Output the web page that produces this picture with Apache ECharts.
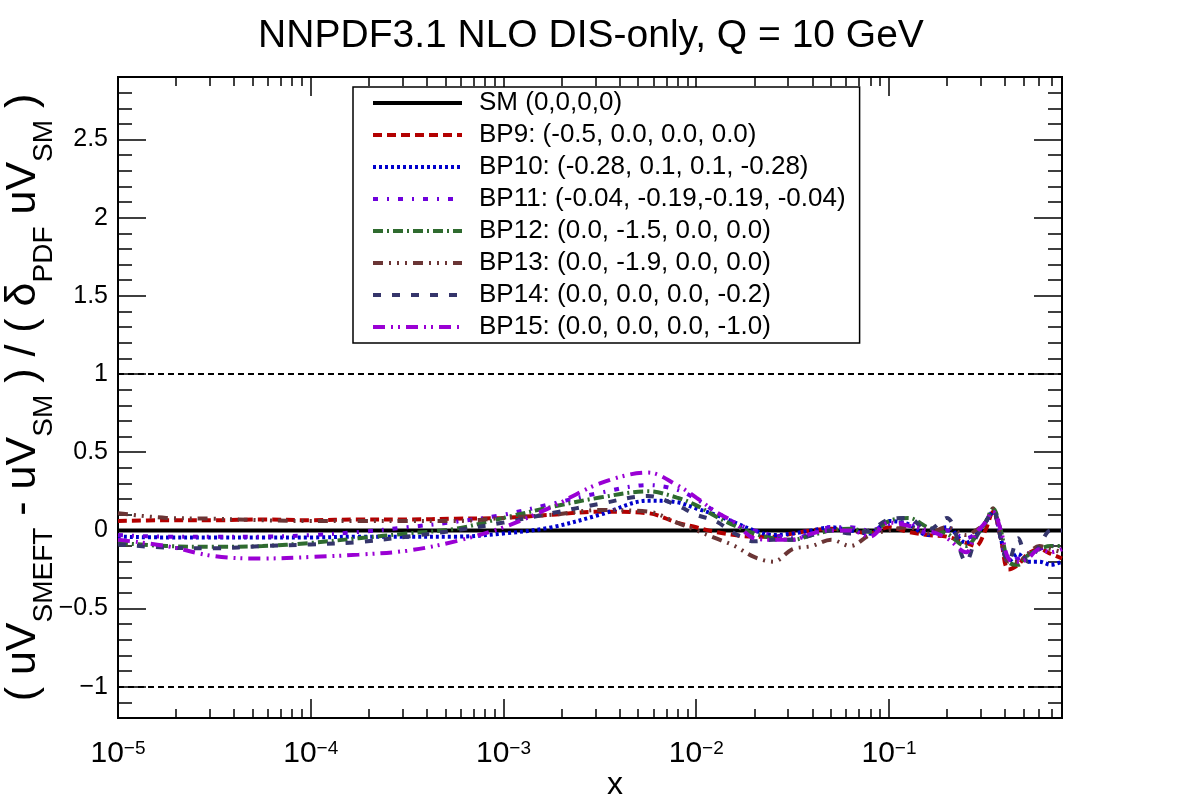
<!DOCTYPE html>
<html>
<head>
<meta charset="utf-8">
<title>NNPDF3.1 NLO DIS-only</title>
<script src="https://cdn.jsdelivr.net/npm/echarts@6.0.0/dist/echarts.min.js"></script>
<style>
html, body { margin: 0; padding: 0; background: #fff; }
#chart { width: 1182px; height: 800px; }
</style>
</head>
<body>
<div id="chart"></div>
<script>
// x points (log spaced)
const xVals = [1e-5, 1.778e-5, 3.162e-5, 5.623e-5, 1e-4, 1.778e-4, 3.162e-4, 5.623e-4,
  1e-3, 1.778e-3, 3.162e-3, 5.623e-3, 7.943e-3, 1e-2, 1.259e-2, 1.585e-2, 1.995e-2,
  2.512e-2, 3.162e-2, 3.981e-2, 5.012e-2, 6.31e-2, 7.943e-2, 0.1, 0.1259, 0.1585,
  0.1995, 0.2512, 0.2818, 0.3162, 0.3467, 0.3802, 0.4169, 0.4677, 0.5248, 0.6026, 0.6918, 0.79];

const bp9 = [0.06, 0.065, 0.065, 0.07, 0.065, 0.07, 0.07, 0.075, 0.08, 0.1, 0.12, 0.11, 0.05, 0.02,
  -0.01, -0.03, -0.04, -0.04, -0.02, 0.0, 0.01, 0.0, -0.02, 0.02, -0.01, -0.03, -0.04, -0.08,
  -0.1, 0.0, 0.12, -0.05, -0.25, -0.22, -0.15, -0.12, -0.15, -0.18];
const bp10 = [-0.04, -0.045, -0.045, -0.045, -0.045, -0.04, -0.04, -0.04, -0.02, 0.02, 0.1, 0.19,
  0.18, 0.14, 0.1, 0.05, 0.0, -0.03, -0.02, 0.0, 0.02, 0.0, -0.02, 0.06, 0.04, -0.03, 0.02,
  -0.08, -0.03, 0.05, 0.12, -0.05, -0.2, -0.15, -0.2, -0.2, -0.22, -0.2];
const bp11 = [-0.03, -0.04, -0.04, -0.04, -0.03, -0.01, 0.02, 0.055, 0.1, 0.17, 0.24, 0.29, 0.26,
  0.2, 0.12, 0.05, 0.0, -0.03, -0.05, -0.02, 0.02, 0.02, 0.0, 0.04, 0.05, -0.02, 0.0, -0.05,
  -0.02, 0.05, 0.13, -0.05, -0.2, -0.18, -0.15, -0.12, -0.1, -0.12];
const bp12 = [-0.08, -0.1, -0.105, -0.1, -0.08, -0.05, -0.02, 0.01, 0.08, 0.15, 0.21, 0.25, 0.21,
  0.16, 0.09, 0.03, -0.02, -0.05, -0.06, -0.03, 0.0, 0.01, -0.01, 0.06, 0.08, 0.02, -0.02,
  -0.1, -0.04, 0.05, 0.14, 0.0, -0.2, -0.22, -0.16, -0.12, -0.1, -0.1];
const bp13 = [0.11, 0.08, 0.075, 0.065, 0.06, 0.06, 0.06, 0.06, 0.08, 0.1, 0.13, 0.12, 0.05, 0.0,
  -0.05, -0.1, -0.17, -0.2, -0.12, -0.1, -0.06, -0.1, -0.03, 0.0, 0.02, -0.02, 0.02, -0.03,
  0.0, 0.05, 0.14, -0.05, -0.2, -0.2, -0.15, -0.1, -0.12, -0.14];
const bp14 = [-0.09, -0.11, -0.115, -0.1, -0.09, -0.075, -0.04, 0.0, 0.05, 0.11, 0.17, 0.22, 0.16,
  0.1, 0.06, -0.02, -0.07, -0.06, -0.06, -0.03, 0.0, -0.02, 0.0, 0.07, 0.08, 0.0, 0.08, -0.2,
  -0.05, 0.05, 0.13, -0.05, -0.2, -0.05, -0.2, -0.1, 0.0, 0.0];
const bp15 = [-0.06, -0.1, -0.165, -0.18, -0.17, -0.155, -0.13, -0.07, 0.02, 0.15, 0.3, 0.37, 0.29,
  0.21, 0.12, 0.05, -0.05, -0.06, -0.06, -0.02, 0.0, 0.0, -0.04, 0.05, 0.03, 0.0, -0.05, -0.14,
  -0.02, 0.05, 0.12, 0.0, -0.18, -0.2, -0.18, -0.12, -0.14, -0.12];

// SM reference line and the +-1 band
const smX = [1e-5, 0.79];
const smY = [0, 0];
const bandLevels = [1, -1];

const names = ['SM (0,0,0,0)', 'BP9: (-0.5, 0.0, 0.0, 0.0)', 'BP10: (-0.28, 0.1, 0.1, -0.28)',
  'BP11: (-0.04, -0.19,-0.19, -0.04)', 'BP12: (0.0, -1.5, 0.0, 0.0)', 'BP13: (0.0, -1.9, 0.0, 0.0)',
  'BP14: (0.0, 0.0, 0.0, -0.2)', 'BP15: (0.0, 0.0, 0.0, -1.0)'];

const xTicks = [1e-5, 1e-4, 1e-3, 1e-2, 1e-1];
const yTicks = [-1, -0.5, 0, 0.5, 1, 1.5, 2, 2.5];

// minor ticks (2..9 per decade, 0.1 steps on y)
const xMinor = [];
for (let e = -5; e <= -1; e++) {
  for (let m = 2; m <= 9; m++) {
    const v = m * Math.pow(10, e);
    if (v < 0.79) xMinor.push(v);
  }
}
const yMinor = [];
for (let i = -12; i <= 29; i++) {
  if (i % 5 !== 0) yMinor.push(i / 10);
}

const FONT = 'Liberation Sans, Arial, sans-serif';
let chart = echarts.init(document.getElementById('chart'));

function xAx(pos, ticks, len, withLabel) {
  let ax = {
    type: 'log', logBase: 10, min: 1e-5, max: 0.79, gridIndex: 0, position: pos,
    axisLine: { show: false, onZero: false },
    splitLine: { show: false },
    axisTick: { show: true, inside: true, length: len, customValues: ticks,
      lineStyle: { color: '#000', width: 1.5 } },
    axisLabel: { show: false }
  };
  if (withLabel) {
    ax.axisLabel = {
      show: true, customValues: ticks, margin: 21,
      formatter: function (v) {
        return '{b|10}{s|\u2212' + Math.round(-Math.log10(v)) + '}';
      },
      rich: {
        b: { fontSize: 30, fontFamily: FONT, color: '#000', lineHeight: 31, verticalAlign: 'top' },
        s: { fontSize: 19, fontFamily: FONT, color: '#000', lineHeight: 19, verticalAlign: 'top' }
      }
    };
    ax.name = 'x';
    ax.nameLocation = 'middle';
    ax.nameGap = 51;
    ax.nameMoveOverlap = false;
    ax.nameTextStyle = { fontSize: 32, fontFamily: FONT, color: '#000', padding: [0, 0, 0, 50] };
  }
  return ax;
}

function yAx(pos, ticks, len, withLabel) {
  let ax = {
    type: 'value', min: -1.2, max: 2.9, gridIndex: 0, position: pos,
    axisLine: { show: false, onZero: false },
    splitLine: { show: false },
    axisTick: { show: true, inside: true, length: len, customValues: ticks,
      lineStyle: { color: '#000', width: 1.5 } },
    axisLabel: { show: false }
  };
  if (withLabel) {
    ax.axisLabel = {
      show: true, customValues: ticks, margin: 10, fontSize: 25, fontFamily: FONT, color: '#000',
      formatter: function (v) { return String(v).replace('-', '\u2212'); }
    };
    ax.name = '( uV{s|SMEFT} - uV{s|SM} ) / ( \u03b4{s|PDF} uV{s|SM} )';
    ax.nameLocation = 'middle';
    ax.nameRotate = 90;
    ax.nameGap = 95;
    ax.nameMoveOverlap = false;
    ax.nameTextStyle = {
      fontSize: 43, fontFamily: FONT, color: '#000', lineHeight: 70, verticalAlign: 'middle',
      rich: { s: { fontSize: 28, fontFamily: FONT, color: '#000', lineHeight: 28, verticalAlign: 'bottom' } }
    };
  }
  return ax;
}

function curve(name, vals, color, dash) {
  return {
    name: name, type: 'line', xAxisIndex: 0, yAxisIndex: 0,
    data: xVals.map((x, i) => [x, vals[i]]),
    symbol: 'none', smooth: 0.35,
    lineStyle: { color: color, width: 4, type: dash },
    itemStyle: { color: color }
  };
}

chart.setOption({
  animation: false,
  backgroundColor: '#fff',
  title: {
    text: 'NNPDF3.1 NLO DIS-only, Q = 10 GeV', left: 'center', top: 12,
    textStyle: { fontSize: 39, fontWeight: 'normal', fontFamily: FONT, color: '#000' }
  },
  grid: {
    left: 118, right: 120, top: 77, bottom: 82, containLabel: false, outerBoundsMode: 'none',
    show: true, borderColor: '#000', borderWidth: 2
  },
  xAxis: [xAx('bottom', xTicks, 19, true), xAx('bottom', xMinor, 9, false),
    xAx('top', xTicks, 19, false), xAx('top', xMinor, 9, false)],
  yAxis: [yAx('left', yTicks, 28, true), yAx('left', yMinor, 14, false),
    yAx('right', yTicks, 28, false), yAx('right', yMinor, 14, false)],
  legend: {
    orient: 'vertical', left: 353, top: 87,
    padding: [3, 14, 3, 18],
    backgroundColor: '#fff', borderColor: '#000', borderWidth: 1.5, borderRadius: 0,
    itemWidth: 89, itemHeight: 26, itemGap: 6,
    itemStyle: { opacity: 0, borderWidth: 0 },
    lineStyle: { width: 4 },
    textStyle: { fontSize: 26, fontFamily: FONT, color: '#000', lineHeight: 26, padding: [0, 0, 0, 12] },
    data: names
  },
  series: [
    {
      name: names[0], type: 'line', data: smX.map((x, i) => [x, smY[i]]),
      symbol: 'none', lineStyle: { color: '#000', width: 4, type: 'solid' }, itemStyle: { color: '#000' },
      markLine: {
        silent: true, symbol: 'none', label: { show: false },
        lineStyle: { color: '#000', width: 2, type: [6, 4] },
        data: bandLevels.map(v => ({ yAxis: v }))
      }
    },
    curve(names[1], bp9, '#b30000', [9, 5]),
    curve(names[2], bp10, '#0000cc', [3, 3]),
    curve(names[3], bp11, '#6e00dc', [5, 9, 2, 9]),
    curve(names[4], bp12, '#2f6b2f', [10, 4, 2, 4]),
    curve(names[5], bp13, '#6b3535', [10, 6, 2, 6, 2, 6, 2, 6]),
    curve(names[6], bp14, '#35356b', [8, 11]),
    curve(names[7], bp15, '#9a00d4', [12, 6, 2, 5, 2, 6])
  ]
});
</script>
</body>
</html>
